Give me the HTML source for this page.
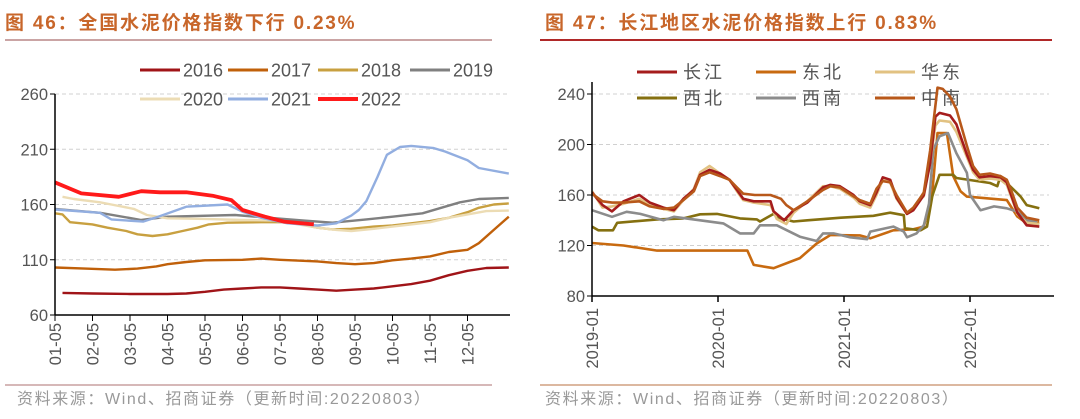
<!DOCTYPE html>
<html><head><meta charset="utf-8">
<style>
body{margin:0;background:#fff;width:1080px;height:419px;overflow:hidden;font-family:"Liberation Sans","Noto Sans CJK SC",sans-serif;}
svg{position:absolute;left:0;top:0;}
</style></head>
<body>
<svg id="svg" width="1080" height="419" viewBox="0 0 1080 419">
<text x="5" y="29" font-size="19" font-weight="bold" letter-spacing="1.8" fill="#c8662a" font-family="Liberation Sans, Noto Sans CJK SC, sans-serif">图 46：全国水泥价格指数下行 0.23%</text>
<line x1="5" y1="40" x2="492" y2="40" stroke="#b98585" stroke-width="1.5"/>
<text x="545" y="29" font-size="19" font-weight="bold" letter-spacing="1.8" fill="#c8662a" font-family="Liberation Sans, Noto Sans CJK SC, sans-serif">图 47：长江地区水泥价格指数上行 0.83%</text>
<line x1="540" y1="40" x2="1052" y2="40" stroke="#b02828" stroke-width="2"/>
<line x1="5" y1="385" x2="492" y2="385" stroke="#c9a0a0" stroke-width="1.5"/>
<line x1="540" y1="385" x2="1052" y2="385" stroke="#d0a080" stroke-width="1.5"/>
<text x="17" y="404" font-size="16" letter-spacing="1.6" fill="#999">资料来源：Wind、招商证券（更新时间:20220803）</text>
<text x="545" y="404" font-size="16" letter-spacing="1.6" fill="#999">资料来源：Wind、招商证券（更新时间:20220803）</text>
<g id="left"></g>
<g id="right"></g>
</svg>
<script>
// ---------- Left chart data (month index, value) ----------
const leftYTicks = [60, 110, 160, 210, 260];
const leftXLabels = ["01-05","02-05","03-05","04-05","05-05","06-05","07-05","08-05","09-05","10-05","11-05","12-05"];
const leftSeriesNames = ["2016","2017","2018","2019","2020","2021","2022"];
const s2016 = [[0.2,80],[1,79.5],[2,79],[3,79],[3.5,79.5],[4,81],[4.5,83],[5,84],[5.5,85],[6,85],[6.5,84],[7,83],[7.5,82],[8,83],[8.5,84],[9,86],[9.5,88],[10,91],[10.5,96],[11,100],[11.5,102.5],[12.1,103]];
const s2017 = [[0,103],[0.8,102],[1.6,101],[2.2,102],[2.7,104],[3,106],[3.5,108],[4,109.5],[5,110],[5.5,111],[6,110],[7,108.5],[7.5,107],[8,106],[8.5,107],[9,109.5],[9.5,111],[10,113],[10.5,117],[11,119],[11.3,125],[11.7,137],[12,146],[12.1,149]];
const s2018 = [[0,152],[0.2,151],[0.4,144],[1,142],[1.4,139],[1.9,136],[2.2,133],[2.6,131.5],[3,133],[3.4,136],[3.8,139],[4.1,142],[4.6,143.5],[5.5,144],[6.2,144],[6.6,142],[7,139],[7.4,137.5],[7.9,138],[8.5,140],[9,141],[9.5,143],[10,145],[10.5,148],[11,153],[11.3,157],[11.7,160],[12.1,161]];
const s2019 = [[0,156],[1.2,152.5],[2.3,146],[3,149],[4.8,150.5],[6.6,145.5],[7.4,143.5],[8.3,146.5],[9,149],[9.8,152],[10.4,158],[10.8,162],[11.3,165],[12.1,166]];
const s2020 = [[0.2,167],[0.5,165],[1.2,162],[1.5,160],[2.1,156],[2.45,150.5],[3,147.5],[4,147],[5,146],[6,145.5],[6.5,142],[7,139],[7.5,137],[7.9,136],[8.5,138],[9,140],[9.5,142],[10,144],[10.5,148],[11,151],[11.5,154],[12.1,154.5]];
const s2021 = [[0,155.5],[1.2,152.5],[1.5,146.5],[2.35,144.5],[2.8,149.5],[3.5,158],[4.6,160],[5,153.5],[5.5,148],[6.2,143],[7,141],[7.5,143],[7.9,150],[8.1,155],[8.3,163],[8.6,185],[8.85,205],[9.2,212],[9.5,213],[10.1,211],[10.4,208],[11,200],[11.3,193],[12.1,188]];
const s2022 = [[0,180],[0.7,170],[1.7,167],[2.3,172],[2.8,171],[3.5,171],[4.2,168],[4.7,164],[5,155],[5.6,149],[6.1,144.5],[6.9,142]];
const leftData = [s2016,s2017,s2018,s2019,s2020,s2021,s2022];
const leftColors = ["#a01418","#c0600a","#c8a040","#808080","#ecdcb4","#92aee0","#ff1a1a"];
const leftWidths = [2.4,2.4,2.4,2.4,2.4,2.4,3.8];

// ---------- Right chart data (months since 2019-01, value) ----------
const rightYTicks = [80, 120, 160, 200, 240];
const rightXLabels = ["2019-01","2020-01","2021-01","2022-01"];
const rightSeriesNames = ["长江","东北","华东","西北","西南","中南"];
const sChangjiang = [[0,162],[1,152],[1.9,147],[3,155],[4.5,160],[5.5,154],[6.8,150],[7.8,148],[8.7,157],[9.7,164],[10.3,176],[11.2,180],[12.2,177],[13.1,172],[13.8,164],[14.4,157],[15.4,155],[17,155],[17.3,147],[18.3,140],[19.2,148],[20.5,154],[22,166],[22.7,168],[23.6,167],[24.9,160],[25.5,155],[26.5,152],[27.1,162],[27.7,174],[28.4,172],[29,158],[30,145],[30.6,148],[31.2,155],[31.6,160],[32.2,185],[32.7,222],[33.1,225],[34.1,223],[34.7,216],[35.7,192],[36.3,180],[36.9,174],[37.9,175],[38.9,174],[39.5,170],[40,158],[40.5,146],[41.4,136],[42.6,135]];
const sDongbei = [[0,122],[3,120],[6.2,116],[14.8,116],[15.4,104.6],[17.3,102],[19.8,110],[21.4,121.6],[22.7,128.3],[25.5,128],[26.5,125.7],[28.7,132],[30.6,132.8],[31.6,135],[31.9,145],[32.4,161],[32.9,209],[33.8,209],[34.4,175],[35.1,163],[35.7,158.7],[39.5,156],[40.5,143],[41.4,137.6],[42.6,138]];
const sHuadong = [[0,163],[1,150],[1.9,151],[3,153],[4.5,157],[5.5,152],[6.8,149],[7.8,147],[8.7,156],[9.7,165],[10.3,178],[11.2,183],[12.2,177],[13.1,172],[13.8,163],[14.4,156],[15.4,154],[17,152],[17.6,141],[18.5,137],[19.2,146],[20.5,155],[22,167],[22.7,167],[23.6,165],[24.9,158],[25.5,153],[26.5,150],[27.1,160],[27.7,172],[28.4,170],[29,157],[30,145],[30.6,149],[31.2,156],[31.6,159],[32.2,185],[32.7,215],[33.1,219],[34.1,218],[34.7,210],[35.7,190],[36.3,178],[36.9,172],[37.9,173],[38.9,172],[39.5,168],[40,157],[40.5,145],[41.4,138],[42.6,137]];
const sXibei = [[0,135],[0.6,132],[2,132],[2.4,138],[6.2,140.7],[8.7,141.5],[10.3,144.7],[11.9,145],[14.1,141.5],[15.7,140.7],[16,139],[17.3,145],[17.9,141.5],[19.2,139],[20.5,140],[23.7,142],[26.8,143.5],[28.4,146],[29.7,144],[29.8,133.6],[31.3,132],[31.9,135],[32.4,158.7],[32.5,161.6],[33.1,176],[34.4,176],[34.7,173.5],[37.9,169.5],[38.6,167],[38.9,175],[39.5,169.5],[40.8,159],[41.4,152],[42.6,149.5]];
const sXinan = [[0,148],[1.9,142.7],[3.3,146.7],[4.6,145],[6.8,140],[7.8,142.7],[10.3,140],[12.5,137.5],[14.1,129.6],[15.4,129.6],[16,136],[17.6,136],[19.8,127],[21.4,123.6],[22,129.6],[23,129.6],[24.6,126.5],[26.2,125],[26.5,131],[28.7,135],[29.7,131],[30,126.5],[30.9,129.6],[31.6,136],[32.1,153],[32.5,196],[33.1,206.5],[33.9,209],[34.7,193],[35.7,177.5],[36,160],[37,148],[38.3,151],[39.5,149.5],[40.5,146.8],[41.4,140],[42.4,139]];
const sZhongnan = [[0,161],[1,155],[1.9,154],[3,154],[4.5,155],[5.5,151],[6.8,149],[7.8,150],[8.7,156],[9.7,163],[10.3,175],[11.2,178],[12.2,175],[13.1,172],[13.8,166],[14.4,161],[15.5,160],[17,160],[18,157],[18.5,152],[19.2,148],[20.5,155],[22,164],[22.7,167],[23.6,166],[24.9,159],[25.5,156],[26.5,153],[27.1,165],[27.7,171],[28.4,170],[29,160],[30,146],[30.6,150],[31.2,157],[31.6,162],[32.2,195],[32.9,245],[33.4,244],[34.1,238],[34.7,228],[35.7,199],[36.3,183],[36.9,176],[37.9,177],[38.9,175],[39.5,172],[40,162],[40.5,150],[41.4,142],[42.6,140]];
const rightData = [sChangjiang,sDongbei,sHuadong,sXibei,sXinan,sZhongnan];
const rightColors = ["#a51c1c","#c86a10","#e2c282","#857010","#8c8c8c","#b8581a"];
const rightDrawOrder = [1,3,4,2,0,5];

const NS = "http://www.w3.org/2000/svg";
function mk(tag, attrs, parent){const e=document.createElementNS(NS,tag);for(const k in attrs)e.setAttribute(k,attrs[k]);parent.appendChild(e);return e;}

// ---- Left chart ----
(function(){
  const g = document.getElementById('left');
  const x0=55, x1=510, yTop=94, yBot=315;
  const xs = m => x0 + m*37.5;
  const ys = v => yBot - (v-60)*(yBot-yTop)/200;
  leftYTicks.forEach(v=>{
    if(v>60){const l=mk('line',{x1:x0,x2:x1,y1:ys(v),y2:ys(v),stroke:'#d0d0d0','stroke-dasharray':'4,3'},g);
    
    }
    const t=mk('line',{x1:x0-5,x2:x0,y1:ys(v),y2:ys(v),stroke:'#000'},g);
    
    
    const tx=mk('text',{x:x0-7,y:ys(v)+6,'font-size':16.5,fill:'#555','text-anchor':'end'},g);
    tx.textContent=v;
    
    
  });
  leftXLabels.forEach((lab,i)=>{
    const x=xs(i);
    const t=mk('line',{x1:x,x2:x,y1:yBot,y2:yBot+6,stroke:'#000'},g);
    
    
    const tx=mk('text',{x:0,y:0,'font-size':16.5,fill:'#555','text-anchor':'end',transform:`translate(${x+6},${yBot+8}) rotate(-90)`},g);
    tx.textContent=lab;
    
    
  });
  const legPos=[[140,70],[228,70],[318,70],[410,70],[140,99],[228,99],[318,99]];
  const clip=mk('clipPath',{id:'lclip'},g); mk('rect',{x:0,y:50,width:510,height:60},clip);
  const lg=mk('g',{'clip-path':'url(#lclip)'},g);
  leftSeriesNames.forEach((n,i)=>{
    const [lx,ly]=legPos[i];
    const l=mk('line',{x1:lx,x2:lx+40,y1:ly,y2:ly,stroke:leftColors[i],'stroke-width':i==6?4:3},lg);
    
    
    const t=mk('text',{x:lx+43,y:ly+6.5,'font-size':18,fill:'#555'},lg);
    t.textContent=n;
    
    
  });
  const pc=mk('clipPath',{id:'lpclip'},g); mk('rect',{x:x0,y:yTop-10,width:x1-x0,height:yBot-yTop+10},pc);
  const pg=mk('g',{'clip-path':'url(#lpclip)'},g);
  leftData.forEach((s,i)=>{
    const d=s.map((p,j)=>(j?'L':'M')+xs(p[0]).toFixed(1)+','+ys(p[1]).toFixed(1)).join('');
    const p=mk('path',{d,fill:'none',stroke:leftColors[i],'stroke-width':leftWidths[i],'stroke-linejoin':'round'},pg);
    
    
  });
  const ya=mk('line',{x1:x0,x2:x0,y1:yTop,y2:yBot,stroke:'#000','stroke-width':1.5},g);
  
  
  const xa=mk('line',{x1:x0,x2:x1,y1:yBot,y2:yBot,stroke:'#000','stroke-width':1.5},g);
  
  
})();

// ---- Right chart ----
(function(){
  const g = document.getElementById('right');
  const x0=592, x1=1039, yTop=94, yBot=296;
  const xs = m => x0 + m*10.5;
  const ys = v => yBot - (v-80)*(yBot-yTop)/160;
  rightYTicks.forEach(v=>{
    if(v>80){const l=mk('line',{x1:x0,x2:x1+10,y1:ys(v),y2:ys(v),stroke:'#d0d0d0','stroke-dasharray':'4,3'},g);
    
    }
    const t=mk('line',{x1:x0-5,x2:x0,y1:ys(v),y2:ys(v),stroke:'#000'},g);
    
    
    const tx=mk('text',{x:x0-7,y:ys(v)+6,'font-size':16.5,fill:'#555','text-anchor':'end'},g);
    tx.textContent=v;
    
    
  });
  rightXLabels.forEach((lab,i)=>{
    const x=xs(i*12);
    const t=mk('line',{x1:x,x2:x,y1:yBot,y2:yBot+6,stroke:'#000','stroke-width':1.5},g);
    
    
    const tx=mk('text',{x:0,y:0,'font-size':16.5,fill:'#555','text-anchor':'end',transform:`translate(${x+6},${yBot+12}) rotate(-90)`},g);
    tx.textContent=lab;
    
    
  });
  const legPos=[[637,72],[756,72],[875,72],[637,98],[756,98],[875,98]];
  rightSeriesNames.forEach((n,i)=>{
    const [lx,ly]=legPos[i];
    const l=mk('line',{x1:lx,x2:lx+40,y1:ly,y2:ly,stroke:rightColors[i],'stroke-width':3},g);
    
    
    const t=mk('text',{x:lx+46,y:ly+6.5,'font-size':18,fill:'#555','letter-spacing':'3'},g);
    t.textContent=n;
    
    
  });
  rightDrawOrder.forEach(i=>{
    const s=rightData[i];
    const d=s.map((p,j)=>(j?'L':'M')+xs(p[0]).toFixed(1)+','+ys(p[1]).toFixed(1)).join('');
    const p=mk('path',{d,fill:'none',stroke:rightColors[i],'stroke-width':2.6,'stroke-linejoin':'round'},g);
    
    
  });
  const ya=mk('line',{x1:x0,x2:x0,y1:yTop-12,y2:yBot,stroke:'#000','stroke-width':1.5},g);
  
  
  const xa=mk('line',{x1:x0,x2:x1+15,y1:yBot,y2:yBot,stroke:'#000','stroke-width':1.5},g);
  
  
})();
</script>
</body></html>
